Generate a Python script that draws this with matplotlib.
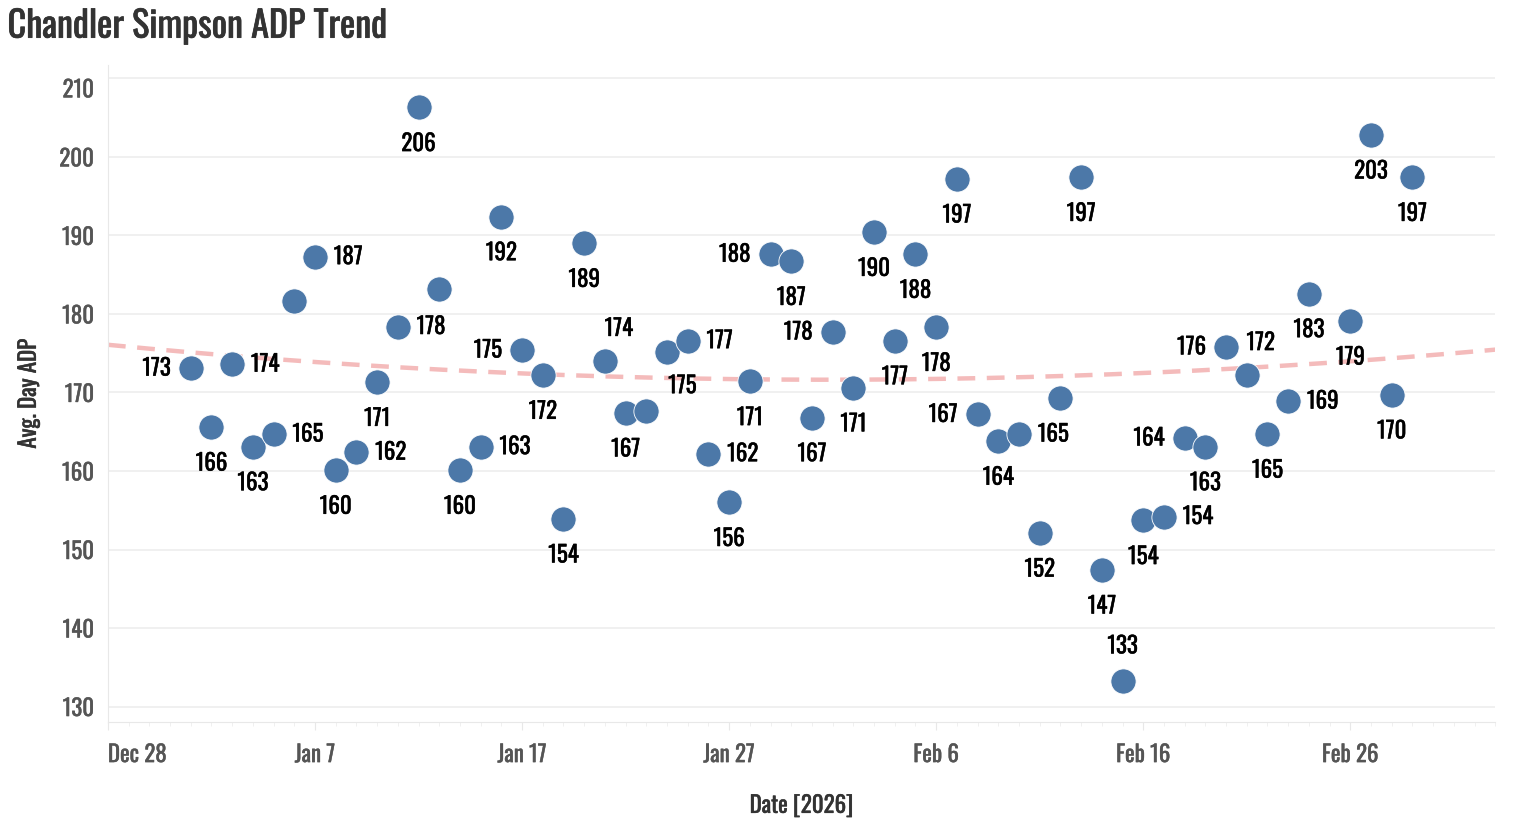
import numpy as np
import pandas as pd
import matplotlib
matplotlib.use("Agg")
import matplotlib.pyplot as plt
import matplotlib.dates as mdates
import matplotlib.patheffects as pe
from matplotlib import font_manager

# --- data ---
dates = pd.date_range("2026-01-01", "2026-03-01").drop(pd.Timestamp("2026-02-25"))
adp = [
    173.1, 165.6, 173.6, 163.1, 164.7, 181.6, 187.3, 160.1, 162.4, 171.3,   # Jan 1-10
    178.4, 206.3, 183.2, 160.1, 163.1, 192.4, 175.4, 172.2, 153.9, 189.0,   # Jan 11-20
    174.0, 167.4, 167.6, 175.2, 176.6, 162.2, 156.0, 171.4, 187.6, 186.7,   # Jan 21-30
    166.8, 177.7, 170.6, 190.4, 176.6, 187.6, 178.3, 197.2, 167.2, 163.8,   # Jan 31-Feb 9
    164.7, 152.1, 169.3, 197.4, 147.4, 133.3, 153.7, 154.2, 164.2, 163.1,   # Feb 10-19
    175.8, 172.2, 164.7, 168.9, 182.6, 179.1, 202.8, 169.7, 197.4,          # Feb 20-Mar 1
]
tick_dates = pd.date_range("2025-12-28", periods=7, freq="10D")

# where each value label sits relative to its point ("" = no label)
label_pos = [
    "l", "b", "r", "b", "r", "", "r", "b", "r", "b",
    "r", "b", "", "b", "r", "b", "l", "b", "b", "b",
    "tr", "b", "", "br", "r", "r", "b", "b", "l", "b",
    "b", "l", "b", "b", "b", "b", "b", "b", "l", "b",
    "r", "b", "", "b", "b", "t", "b", "r", "l", "b",
    "l", "tr", "b", "r", "b", "b", "b", "b", "b",
]

# --- font: pick a condensed face if one is installed ---
names = {f.name for f in font_manager.fontManager.ttflist}
family = "DejaVu Sans"
for cand in ["Oswald", "Roboto Condensed", "Liberation Sans Narrow", "Open Sans Condensed", "Noto Sans Condensed"]:
    if cand in names:
        family = cand
        break
plt.rcParams["font.family"] = [family, "DejaVu Sans"]
if family == "DejaVu Sans":
    plt.rcParams["font.stretch"] = "condensed"


def heavy(color, w=0.35):
    # thicken the strokes a little, the reference face is a bit heavier
    return [pe.withStroke(linewidth=w, foreground=color)]


blue = "#4c78a8"
trend_col = "#f4bbbb"

fig = plt.figure(figsize=(15.18, 8.34), dpi=100)
ax = fig.add_axes([0.0711, 0.134, 0.9139, 0.788])

x_start = pd.Timestamp("2025-12-28")
x_end = pd.Timestamp("2026-03-05")

# quadratic trend over the whole axis extent
day = (dates - x_start).days.values.astype(float)
coef = np.polyfit(day, adp, 2)
xx = np.linspace(0, (x_end - x_start).total_seconds() / 86400, 200)
ax.plot(x_start + pd.to_timedelta(xx, unit="D"), np.polyval(coef, xx),
        color=trend_col, lw=3.2, ls=(0, (4, 2.6)), zorder=2, solid_capstyle="butt")

ax.scatter(dates, adp, s=330, color=blue, edgecolor="white", linewidth=0.6, zorder=3)

offs = {
    "r": (13.5, 0, "left"),
    "l": (-14.5, 0, "right"),
    "b": (0, -26, "center"),
    "t": (0, 25, "center"),
    "tr": (10, 23.5, "center"),
    "br": (11, -24.5, "center"),
}
for d, v, p in zip(dates, adp, label_pos):
    if not p:
        continue
    dx, dy, ha = offs[p]
    ax.annotate(f"{v:.0f}", (d, v), xytext=(dx, dy), textcoords="offset points",
                ha=ha, va="center", fontsize=16.5, color="black", zorder=4,
                path_effects=heavy("black"))

ax.set_xlim(x_start, x_end)
ax.set_ylim(128.0, 211.7)
ax.set_yticks(np.arange(130, 211, 10))
ax.grid(axis="y", color="#eeeeee", lw=1.2)
ax.set_axisbelow(True)

ax.set_xticks(tick_dates)
ax.xaxis.set_major_formatter(mdates.DateFormatter("%b %-d"))
ax.xaxis.set_minor_locator(mdates.DayLocator())

for s in ["top", "right"]:
    ax.spines[s].set_visible(False)
ax.spines["left"].set_color("#e8e8e8")
ax.spines["bottom"].set_color("#e8e8e8")
ax.tick_params(axis="y", length=0, pad=10, labelsize=16.5, labelcolor="#555555")
ax.tick_params(axis="x", which="major", length=6, color="#e8e8e8", pad=9,
               labelsize=16.5, labelcolor="#555555")
ax.tick_params(axis="x", which="minor", length=3, color="#eeeeee")

# flush the edge labels like the reference
ax.get_xticklabels()[0].set_horizontalalignment("left")
ylab = ax.get_yticklabels()
ylab[-1].set_verticalalignment("top")
for t in ax.get_xticklabels() + ax.get_yticklabels():
    t.set_path_effects(heavy("#555555", 0.3))

ax.set_xlabel("Date [2026]", fontsize=16.5, color="#333333", labelpad=20,
              path_effects=heavy("#333333"))
ax.set_ylabel("Avg. Day ADP", fontsize=16.5, color="#333333", labelpad=14,
              path_effects=heavy("#333333"))
fig.text(0.005, 0.968, "Chandler Simpson ADP Trend", fontsize=26, color="#333333",
         ha="left", va="center", path_effects=heavy("#333333", 0.5))

fig.savefig("out.png", dpi=100)
